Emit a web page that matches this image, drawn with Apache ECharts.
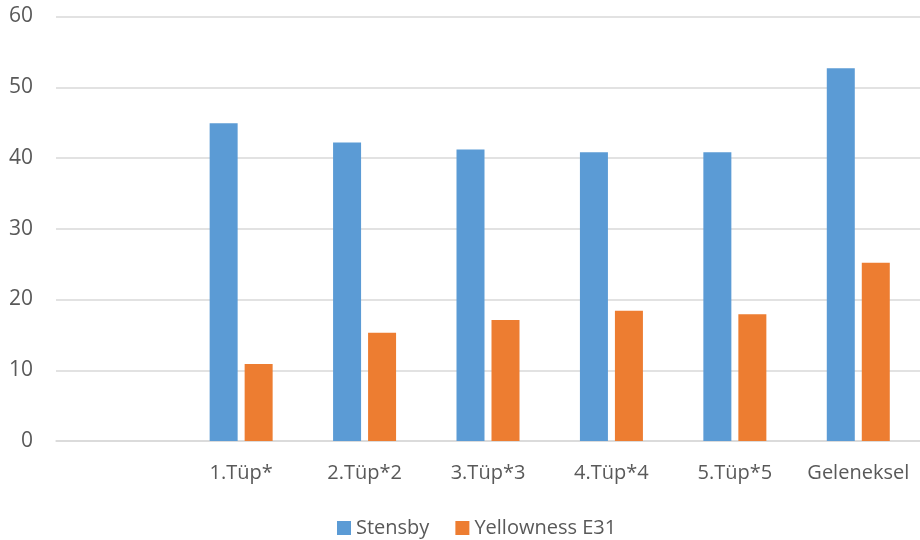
<!DOCTYPE html>
<html><head><meta charset="utf-8">
<script src="https://cdn.jsdelivr.net/npm/echarts@6/dist/echarts.min.js"></script>
<style>html,body{margin:0;padding:0;background:#fff}#c{width:920px;height:540px}</style>
</head><body><div id="c"></div>
<script>
const categories = ['', '1.Tüp*', '2.Tüp*2', '3.Tüp*3', '4.Tüp*4', '5.Tüp*5', 'Geleneksel'];
const stensby = [null, 44.9, 42.2, 41.2, 40.8, 40.8, 52.7];
const yellowness = [null, 10.9, 15.3, 17.1, 18.4, 17.9, 25.2];
const yTicks = [0, 10, 20, 30, 40, 50, 60];

const font = '"Open Sans", "Noto Sans", sans-serif';
const chart = echarts.init(document.getElementById('c'));
chart.setOption({
  animation: false,
  textStyle: { fontFamily: font },
  grid: { left: 56, right: -3, top: 16.5, bottom: 99, containLabel: false },
  legend: {
    left: 332, top: 513, itemWidth: 14, itemHeight: 14, itemGap: 26,
    icon: 'rect',
    textStyle: { fontSize: 20, color: '#595959', fontFamily: font, padding: [0, 0, 0, 0] },
    data: ['Stensby', 'Yellowness E31']
  },
  xAxis: {
    type: 'category', data: categories,
    axisLine: { lineStyle: { color: '#d9d9d9', width: 1.5 } },
    axisTick: { show: false },
    axisLabel: { color: '#595959', fontSize: 20, margin: 22, interval: 0, fontFamily: font }
  },
  yAxis: {
    type: 'value', min: yTicks[0], max: yTicks[yTicks.length - 1], interval: 10,
    axisLine: { show: false }, axisTick: { show: false },
    splitLine: { lineStyle: { color: '#d9d9d9', width: 1.5 } },
    axisLabel: { color: '#595959', fontSize: 21, margin: 23, fontFamily: font }
  },
  series: [
    { name: 'Stensby', type: 'bar', data: stensby, barWidth: 28, barGap: '25%', itemStyle: { color: '#5b9bd5' } },
    { name: 'Yellowness E31', type: 'bar', data: yellowness, barWidth: 28, itemStyle: { color: '#ed7d31' } }
  ]
});
</script></body></html>
